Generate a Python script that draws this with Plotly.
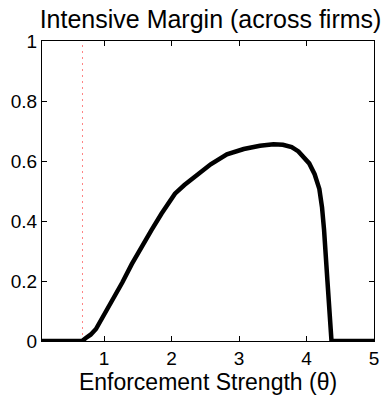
import plotly.graph_objects as go

# Data
theta = [0.08, 0.674, 0.73, 0.80, 0.88, 1.00, 1.12, 1.27, 1.41, 1.56, 1.70, 1.85, 1.97, 2.00,
         2.05, 2.19, 2.36, 2.58, 2.82, 3.07, 3.31, 3.51, 3.65, 3.78, 3.88, 3.96, 4.04, 4.12,
         4.19, 4.23, 4.26, 4.31, 4.36, 4.37, 5.0]
margin = [0.0, 0.0, 0.010, 0.021, 0.040, 0.087, 0.131, 0.195, 0.256, 0.317, 0.369, 0.424, 0.466, 0.477,
          0.491, 0.520, 0.551, 0.589, 0.622, 0.640, 0.651, 0.656, 0.654, 0.646, 0.632, 0.614, 0.592, 0.556,
          0.507, 0.445, 0.370, 0.200, 0.032, 0.0, 0.0]
threshold = 0.68

title_text = "Intensive Margin (across firms)"
x_label = "Enforcement Strength (θ)"
x_ticks = [1, 2, 3, 4, 5]
y_ticks = [0, 0.2, 0.4, 0.6, 0.8, 1]
y_ticklabels = ["0", "0.2", "0.4", "0.6", "0.8", "1"]

font_family = "Liberation Sans, Arial, sans-serif"

fig = go.Figure()
fig.add_trace(go.Scatter(x=[threshold, threshold], y=[0, 1], mode="lines",
                         line=dict(color="rgba(255,90,90,0.75)", width=1, dash="2px,4px"),
                         hoverinfo="skip"))
fig.add_trace(go.Scatter(x=theta, y=margin, mode="lines",
                         line=dict(color="black", width=4.5)))

fig.update_layout(
    width=386, height=395,
    margin=dict(l=42, r=7, t=41, b=52),
    paper_bgcolor="white", plot_bgcolor="white",
    showlegend=False,
    font=dict(family=font_family, color="black"),
    title=dict(text=title_text, x=(42 + 379) / 2 / 386, xanchor="center",
               y=1 - 19 / 395, yanchor="middle", yref="container",
               font=dict(size=25, family=font_family, color="black")),
)
fig.update_xaxes(range=[0.08, 5], tickvals=x_ticks, ticks="inside", ticklen=5,
                 tickcolor="black", showline=True, linecolor="black", linewidth=1,
                 mirror="ticks", showgrid=False, zeroline=False,
                 tickfont=dict(size=19), title=dict(text=x_label, font=dict(size=23), standoff=3))
fig.update_yaxes(range=[0, 1], tickvals=y_ticks, ticktext=y_ticklabels, ticks="inside", ticklen=5,
                 tickcolor="black", showline=True, linecolor="black", linewidth=1,
                 mirror="ticks", showgrid=False, zeroline=False,
                 tickfont=dict(size=19))

fig.write_html("out.html")
